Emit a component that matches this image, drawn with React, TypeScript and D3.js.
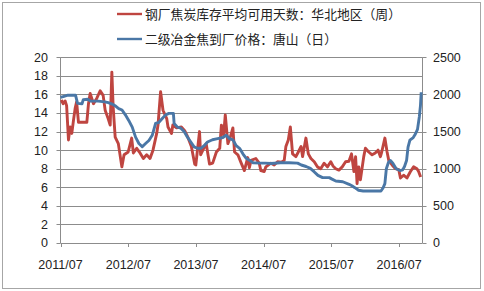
import React from "react";
import * as d3 from "d3";

const W = 484;
const H = 291;

const legendLabels = ["钢厂焦炭库存平均可用天数：华北地区（周）", "二级冶金焦到厂价格：唐山（日）"];
const xTickLabels = ["2011/07", "2012/07", "2013/07", "2014/07", "2015/07", "2016/07"];
const leftTicks = [0, 2, 4, 6, 8, 10, 12, 14, 16, 18, 20];
const rightTicks = [0, 500, 1000, 1500, 2000, 2500];

const stockDates = [
  "2011-07-05","2011-07-15","2011-07-26","2011-08-03","2011-08-13","2011-08-22","2011-08-31","2011-09-09","2011-09-18","2011-09-26",
  "2011-10-06","2011-10-15","2011-10-31","2011-11-20","2011-11-29","2011-12-08","2011-12-26","2012-01-13","2012-01-31","2012-02-16",
  "2012-02-27","2012-03-14","2012-03-25","2012-04-03","2012-04-10","2012-04-21","2012-05-08","2012-05-27","2012-06-08","2012-06-30",
  "2012-07-19","2012-07-28","2012-08-15","2012-09-02","2012-09-20","2012-10-08","2012-10-26","2012-11-11","2012-12-01","2012-12-08",
  "2012-12-22","2013-01-04","2013-01-24","2013-01-31","2013-02-19","2013-02-26","2013-03-18","2013-04-13","2013-05-01","2013-05-18",
  "2013-06-06","2013-06-24","2013-06-30","2013-07-20","2013-07-26","2013-08-07","2013-08-25","2013-09-12","2013-09-29","2013-10-19",
  "2013-11-06","2013-11-15","2013-11-27","2013-12-06","2013-12-20","2014-01-02","2014-01-16","2014-01-25","2014-02-12","2014-03-02",
  "2014-03-19","2014-04-06","2014-04-15","2014-04-24","2014-05-20","2014-06-07","2014-06-16","2014-07-04","2014-07-13","2014-08-09",
  "2014-08-27","2014-09-14","2014-10-04","2014-10-20","2014-10-29","2014-11-11","2014-11-22","2014-12-04","2014-12-22","2015-01-04",
  "2015-01-19","2015-01-27","2015-02-14","2015-02-27","2015-03-13","2015-03-31","2015-04-17","2015-05-05","2015-05-23","2015-06-10",
  "2015-06-28","2015-07-10","2015-07-25","2015-08-11","2015-08-29","2015-09-16","2015-10-04","2015-10-18","2015-10-31","2015-11-09",
  "2015-11-17","2015-11-26","2015-12-05","2015-12-23","2016-01-01","2016-01-19","2016-02-06","2016-02-23","2016-03-09","2016-03-22",
  "2016-03-29","2016-04-15","2016-04-27","2016-05-06","2016-05-24","2016-06-11","2016-06-29","2016-07-08","2016-07-25","2016-08-12",
  "2016-08-31","2016-09-17","2016-10-05","2016-10-14","2016-10-25"
];
const stockDays = [
  15.4,15.0,15.3,14.8,11.1,12.5,11.8,13.2,14.5,15.2,
  13.0,13.0,13.0,13.0,15.0,16.1,15.0,15.6,16.4,15.9,
  14.3,13.4,12.7,18.4,14.7,11.4,10.7,8.2,9.5,9.8,
  11.3,9.7,10.2,9.7,9.1,9.5,9.1,10.0,11.8,12.7,
  16.3,14.3,13.4,12.5,11.8,12.7,12.4,12.5,12.1,11.4,
  10.4,8.5,8.4,12.0,9.5,10.0,10.7,8.5,8.6,9.8,
  10.2,12.7,11.6,13.8,10.7,11.4,12.4,9.8,9.5,8.6,
  7.8,9.2,8.1,8.9,9.1,8.6,7.8,7.7,8.2,8.6,
  8.4,8.75,8.7,8.9,10.4,11.1,12.5,9.6,9.3,9.8,
  10.4,9.3,11.3,9.6,9.1,8.75,8.2,8.0,8.6,8.2,
  8.75,8.3,8.0,7.85,8.2,8.75,8.8,9.6,7.7,9.3,
  6.4,8.2,6.8,9.3,10.2,9.8,9.5,9.7,10.0,9.3,
  9.8,11.3,9.8,8.9,8.4,8.0,7.9,7.0,7.3,7.0,
  7.7,8.2,8.0,7.7,7.1
];

const priceDates = [
  "2011-07-01","2011-07-20","2011-08-10","2011-09-20","2011-10-01","2011-10-25","2011-11-01","2011-11-25","2011-12-10","2012-01-20",
  "2012-02-25","2012-03-15","2012-04-05","2012-04-25","2012-05-10","2012-05-28","2012-06-15","2012-07-03","2012-07-22","2012-08-09",
  "2012-08-27","2012-09-14","2012-10-02","2012-10-20","2012-11-07","2012-11-25","2012-12-13","2012-12-31","2013-01-18","2013-02-05",
  "2013-03-01","2013-03-05","2013-03-23","2013-04-10","2013-04-28","2013-05-16","2013-06-03","2013-06-21","2013-07-09","2013-07-27",
  "2013-08-14","2013-09-01","2013-09-28","2013-10-26","2013-11-23","2013-12-11","2013-12-29","2014-01-16","2014-02-03","2014-02-21",
  "2014-03-11","2014-03-29","2014-04-15","2014-05-05","2014-06-10","2014-07-10","2014-08-10","2014-09-30","2014-11-15","2014-12-31",
  "2015-01-20","2015-02-15","2015-03-10","2015-03-30","2015-04-20","2015-05-15","2015-06-20","2015-07-05","2015-07-25","2015-09-01",
  "2015-10-05","2015-10-20","2015-11-05","2015-11-25","2015-12-20","2016-03-25","2016-04-05","2016-04-15","2016-04-23","2016-05-05",
  "2016-05-15","2016-05-28","2016-06-15","2016-07-05","2016-07-20","2016-07-30","2016-08-10","2016-08-18","2016-08-28","2016-09-15",
  "2016-09-25","2016-10-08","2016-10-18","2016-10-24","2016-10-28"
];
const cokePrice = [
  1960,1975,1990,1990,1880,1875,1930,1935,1910,1910,
  1900,1890,1870,1840,1810,1790,1725,1650,1560,1425,
  1340,1295,1340,1380,1450,1610,1625,1675,1725,1745,
  1745,1610,1560,1545,1500,1425,1360,1295,1275,1275,
  1310,1360,1390,1405,1420,1450,1405,1390,1310,1275,
  1200,1140,1115,1080,1075,1075,1070,1080,1080,1075,
  1050,1030,1005,960,910,880,880,860,835,825,
  790,770,745,710,700,700,740,800,1000,1090,
  1110,1075,1000,975,985,1030,1110,1290,1385,1420,
  1460,1530,1700,1850,2030
];

const RED = "#bf4540";
const BLUE = "#4a77a6";
const GRID = "#8c8c8c";
const TXT = "#222";
const FONT = "'Liberation Sans', Arial, sans-serif";
const CJK = "'Noto Sans CJK SC', sans-serif";

export default function App() {
  const left = 60.5;
  const right = 422.5;
  const top = 57.3;
  const bottom = 243;
  const parse = d3.timeParse("%Y-%m-%d");
  const x = d3.scaleTime().domain([parse("2011-07-01")!, parse("2016-11-04")!]).range([left, right]);
  const yL = d3.scaleLinear().domain([0, 20]).range([bottom, top]);
  const yR = d3.scaleLinear().domain([0, 2500]).range([bottom, top]);

  const stock = stockDates.map((d, i) => ({ d: parse(d)!, v: stockDays[i] }));
  const price = priceDates.map((d, i) => ({ d: parse(d)!, v: cokePrice[i] }));
  const lineL = d3.line<{ d: Date; v: number }>().x((p) => x(p.d)).y((p) => yL(p.v));
  const lineR = d3.line<{ d: Date; v: number }>().x((p) => x(p.d)).y((p) => yR(p.v));
  const tickDates = xTickLabels.map((s) => d3.timeParse("%Y/%m")(s)!);

  return (
    <svg width={W} height={H} style={{ position: "absolute", left: 0, top: 0, background: "#fff" }}>
      <rect x={2.5} y={2.5} width={478} height={286} fill="#fff" stroke="#a6a6a6" strokeWidth={1} />
      {leftTicks.map((t) => (
        <g key={"g" + t}>
          <line x1={left} x2={right} y1={Math.round(yL(t)) + 0.5} y2={Math.round(yL(t)) + 0.5} stroke={GRID} strokeWidth={1} />
          <line x1={left - 4} x2={left} y1={Math.round(yL(t)) + 0.5} y2={Math.round(yL(t)) + 0.5} stroke={GRID} strokeWidth={1} />
          <text x={48} y={yL(t)} dy="0.35em" textAnchor="end" fontSize={12.5} fontFamily={FONT} fill={TXT}>{t}</text>
        </g>
      ))}
      {rightTicks.map((t) => (
        <g key={"r" + t}>
          <line x1={right} x2={right + 4} y1={Math.round(yR(t)) + 0.5} y2={Math.round(yR(t)) + 0.5} stroke={GRID} strokeWidth={1} />
          <text x={433} y={yR(t)} dy="0.35em" textAnchor="start" fontSize={12.5} fontFamily={FONT} fill={TXT}>{t}</text>
        </g>
      ))}
      <line x1={left} x2={left} y1={top} y2={bottom} stroke={GRID} strokeWidth={1} />
      <line x1={right} x2={right} y1={top} y2={bottom} stroke={GRID} strokeWidth={1} />
      {tickDates.map((d, i) => (
        <g key={"x" + i}>
          <line x1={Math.round(x(d)) + 0.5} x2={Math.round(x(d)) + 0.5} y1={bottom} y2={bottom + 4} stroke={GRID} strokeWidth={1} />
          <text x={x(d)} y={269} textAnchor="middle" fontSize={12.5} fontFamily={FONT} fill={TXT}>{xTickLabels[i]}</text>
        </g>
      ))}
      <path d={lineL(stock) || ""} fill="none" stroke={RED} strokeWidth={2.9} strokeLinejoin="round" />
      <path d={lineR(price) || ""} fill="none" stroke={BLUE} strokeWidth={2.9} strokeLinejoin="round" />
      {legendLabels.map((s, i) => (
        <g key={"l" + i}>
          <line x1={117} x2={142} y1={14 + i * 25} y2={14 + i * 25} stroke={i === 0 ? RED : BLUE} strokeWidth={2.4} />
          <text x={145} y={14 + i * 25} dy="0.36em" fontSize={12.8} fontFamily={CJK} fill={TXT}>{s}</text>
        </g>
      ))}
    </svg>
  );
}
